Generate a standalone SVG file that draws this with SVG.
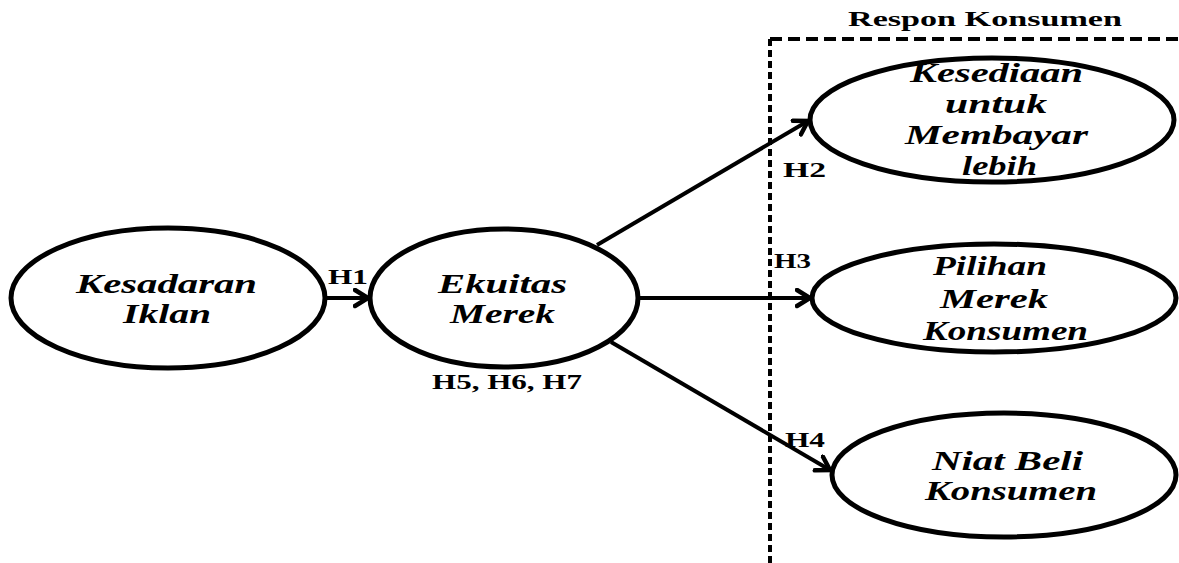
<svg xmlns="http://www.w3.org/2000/svg" width="1179" height="563" viewBox="0 0 1179 563">
<style>
.node{fill:#fff;stroke:#000;stroke-width:5}
.t{font-family:"Liberation Serif",serif;font-weight:bold;font-style:italic;font-size:28px;fill:#000}
.lbl{font-family:"Liberation Serif",serif;font-weight:bold;font-size:20px;fill:#000}
.conn{stroke:#000;stroke-width:4;fill:none}
.dash{fill:none;stroke:#000;stroke-width:4}
</style>
<defs>
<marker id="arr" markerUnits="userSpaceOnUse" markerWidth="20" markerHeight="22" refX="15" refY="10" orient="auto">
<path d="M2,2 L15,10 L2,18" fill="none" stroke="#000" stroke-width="4.5" stroke-linecap="round" stroke-linejoin="miter"/>
</marker>
</defs>
<rect width="1179" height="563" fill="#fff"/>
<g id="boundary">
<path class="dash" d="M770,39 H1179" stroke-dasharray="12,6"/>
<path class="dash" d="M770,39 V563" stroke-dasharray="7,4"/>
<text class="lbl" x="985" y="26" text-anchor="middle" font-size="18" textLength="274" lengthAdjust="spacingAndGlyphs">Respon Konsumen</text>
</g>
<g id="connectors">
<line class="conn" x1="326" y1="298" x2="368" y2="298" marker-end="url(#arr)"/>
<line class="conn" x1="597" y1="245" x2="808" y2="121" marker-end="url(#arr)"/>
<line class="conn" x1="638" y1="298" x2="810" y2="298" marker-end="url(#arr)"/>
<line class="conn" x1="611" y1="342" x2="830" y2="470" marker-end="url(#arr)"/>
<text class="lbl" x="328" y="284" textLength="40" lengthAdjust="spacingAndGlyphs">H1</text>
<text class="lbl" x="783" y="177" textLength="43" lengthAdjust="spacingAndGlyphs">H2</text>
<text class="lbl" x="774" y="268" textLength="37" lengthAdjust="spacingAndGlyphs">H3</text>
<text class="lbl" x="785" y="447" textLength="40" lengthAdjust="spacingAndGlyphs">H4</text>
</g>
<g id="kesadaran">
<ellipse class="node" cx="168" cy="298" rx="157" ry="70"/>
<text class="t" x="76" y="293" textLength="181" lengthAdjust="spacingAndGlyphs">Kesadaran</text>
<text class="t" x="123" y="323" textLength="88" lengthAdjust="spacingAndGlyphs">Iklan</text>
</g>
<g id="ekuitas">
<ellipse class="node" cx="504" cy="298" rx="134" ry="69"/>
<text class="t" x="438" y="293" textLength="129" lengthAdjust="spacingAndGlyphs">Ekuitas</text>
<text class="t" x="450" y="323" textLength="105" lengthAdjust="spacingAndGlyphs">Merek</text>
<text class="lbl" x="432" y="389" textLength="150" lengthAdjust="spacingAndGlyphs">H5, H6, H7</text>
</g>
<g id="kesediaan">
<ellipse class="node" cx="992" cy="120" rx="182" ry="62"/>
<text class="t" x="910" y="82" textLength="173" lengthAdjust="spacingAndGlyphs">Kesediaan</text>
<text class="t" x="945" y="113" textLength="102" lengthAdjust="spacingAndGlyphs">untuk</text>
<text class="t" x="905" y="144" textLength="183" lengthAdjust="spacingAndGlyphs">Membayar</text>
<text class="t" x="962" y="175" textLength="75" lengthAdjust="spacingAndGlyphs">lebih</text>
</g>
<g id="pilihan">
<ellipse class="node" cx="994" cy="298" rx="182" ry="54"/>
<text class="t" x="933" y="275" textLength="114" lengthAdjust="spacingAndGlyphs">Pilihan</text>
<text class="t" x="940" y="308" textLength="108" lengthAdjust="spacingAndGlyphs">Merek</text>
<text class="t" x="923" y="340" textLength="165" lengthAdjust="spacingAndGlyphs">Konsumen</text>
</g>
<g id="niat">
<ellipse class="node" cx="1004" cy="475" rx="172" ry="62"/>
<text class="t" x="932" y="470" textLength="151" lengthAdjust="spacingAndGlyphs">Niat Beli</text>
<text class="t" x="925" y="500" textLength="172" lengthAdjust="spacingAndGlyphs">Konsumen</text>
</g>
</svg>
